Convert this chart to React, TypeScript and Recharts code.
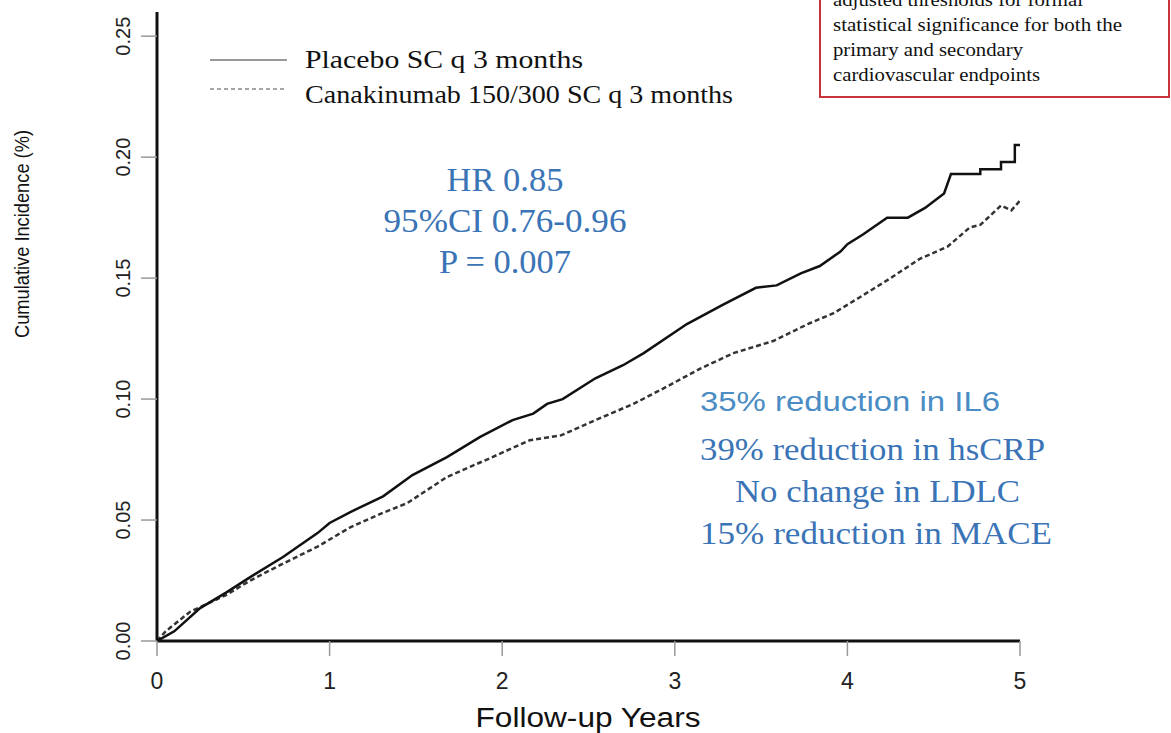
import { LineChart, Line, XAxis, YAxis } from 'recharts';

// follow-up years / cumulative incidence
const placeboYears = [
  0, 0.1, 0.25, 0.4, 0.54, 0.73, 0.93, 1.0, 1.12, 1.31, 1.48, 1.68, 1.87, 2.06, 2.18,
  2.26, 2.35, 2.54, 2.7, 2.82, 3.07, 3.28, 3.47, 3.59, 3.73, 3.84, 3.96, 4.0, 4.09,
  4.23, 4.35, 4.45, 4.56, 4.6, 4.77, 4.77, 4.89, 4.89, 4.97, 4.97, 5.0,
];
const placeboValues = [
  0, 0.004, 0.0136, 0.02, 0.0264, 0.0347, 0.0446, 0.0488, 0.0533, 0.0598, 0.0686, 0.076,
  0.0843, 0.0913, 0.094, 0.098, 0.1, 0.1086, 0.114, 0.119, 0.131, 0.139, 0.146, 0.147,
  0.152, 0.155, 0.161, 0.164, 0.168, 0.175, 0.175, 0.179, 0.185, 0.193, 0.193, 0.195,
  0.195, 0.198, 0.198, 0.205, 0.205,
];
const canakinumabYears = [
  0, 0.05, 0.19, 0.4, 0.54, 0.73, 0.93, 1.12, 1.31, 1.45, 1.68, 1.93, 2.16, 2.34, 2.54,
  2.76, 2.95, 3.15, 3.34, 3.57, 3.77, 3.92, 4.07, 4.25, 4.42, 4.58, 4.71, 4.77, 4.89,
  4.95, 5.0,
];
const canakinumabValues = [
  0, 0.004, 0.012, 0.019, 0.025, 0.032, 0.039, 0.047, 0.053, 0.057, 0.0678, 0.0756, 0.083,
  0.085, 0.0913, 0.098, 0.105, 0.1127, 0.119, 0.124, 0.131, 0.1355, 0.142, 0.15, 0.158,
  0.163, 0.171, 0.172, 0.18, 0.178, 0.182,
];

const yTicks = [0, 0.05, 0.1, 0.15, 0.2, 0.25];
const xTicks = [0, 1, 2, 3, 4, 5];

const seriesNames = ['Placebo SC q 3 months', 'Canakinumab 150/300 SC q 3 months'];
const statLines = ['HR 0.85', '95%CI 0.76-0.96', 'P = 0.007'];
const noteLines = [
  'adjusted thresholds for formal',
  'statistical significance for both the',
  'primary and secondary',
  'cardiovascular endpoints',
];

const placeboData = placeboYears.map((year, i) => ({ year, value: placeboValues[i] }));
const canakinumabData = canakinumabYears.map((year, i) => ({ year, value: canakinumabValues[i] }));

const SANS = '"Liberation Sans", Arial, sans-serif';
const SERIF = '"Liberation Serif", "Times New Roman", serif';
const BLUE = '#3a74b6';

// measured text widths in the picture
const statWidths = [117, 243, 132];
const noteWidths = [250, 289, 190, 207];

function YTick({ x, y, payload }: any) {
  const cx = x - 16;
  return (
    <text
      x={cx}
      y={y}
      transform={`rotate(-90 ${cx} ${y})`}
      textAnchor="middle"
      dominantBaseline="central"
      fontFamily={SANS}
      fontSize={20}
      fill="#222"
    >
      {Number(payload.value).toFixed(2)}
    </text>
  );
}

function XTick({ x, payload }: any) {
  return (
    <text x={x} y={689} textAnchor="middle" fontFamily={SANS} fontSize={23} fill="#222">
      {payload.value}
    </text>
  );
}

export default function App() {
  return (
    <div style={{ position: 'absolute', left: 0, top: 0, width: 1171, height: 733, background: '#fff' }}>
      <LineChart width={1171} height={733} margin={{ top: 12, right: 151, bottom: 0, left: 0 }}>
        <XAxis
          dataKey="year"
          type="number"
          domain={[0, 5]}
          ticks={xTicks}
          height={92}
          tickSize={15}
          tick={<XTick />}
          tickLine={{ stroke: '#999', strokeWidth: 1.5 }}
          axisLine={{ stroke: '#111', strokeWidth: 3 }}
          allowDataOverflow
        />
        <YAxis
          dataKey="value"
          type="number"
          domain={[0, 0.26]}
          ticks={yTicks}
          width={157}
          tickSize={16}
          tick={<YTick />}
          tickLine={{ stroke: '#999', strokeWidth: 1.5 }}
          axisLine={{ stroke: '#111', strokeWidth: 3 }}
          allowDataOverflow
        />
        <Line
          data={canakinumabData}
          dataKey="value"
          name={seriesNames[1]}
          type="linear"
          stroke="#333"
          strokeWidth={2.5}
          strokeDasharray="5 3"
          dot={false}
          isAnimationActive={false}
        />
        <Line
          data={placeboData}
          dataKey="value"
          name={seriesNames[0]}
          type="linear"
          stroke="#111"
          strokeWidth={2.5}
          dot={false}
          isAnimationActive={false}
        />
      </LineChart>
      <svg
        width={1171}
        height={733}
        style={{ position: 'absolute', left: 0, top: 0, pointerEvents: 'none' }}
      >
        {/* legend */}
        <line x1={210} x2={287} y1={60} y2={60} stroke="#777" strokeWidth={1.5} />
        <text x={305} y={68} fontFamily={SERIF} fontSize={25} textLength={278} lengthAdjust="spacingAndGlyphs" fill="#111">
          {seriesNames[0]}
        </text>
        <line x1={210} x2={287} y1={89} y2={89} stroke="#888" strokeWidth={1.5} strokeDasharray="4 3" />
        <text x={305} y={103} fontFamily={SERIF} fontSize={25} textLength={428} lengthAdjust="spacingAndGlyphs" fill="#111">
          {seriesNames[1]}
        </text>

        <text
          x={22}
          y={234}
          transform="rotate(-90 22 234)"
          textAnchor="middle"
          dominantBaseline="central"
          fontFamily={SANS}
          fontSize={20}
          textLength={208}
          lengthAdjust="spacingAndGlyphs"
          fill="#111"
        >
          Cumulative Incidence (%)
        </text>
        <text x={588} y={727} textAnchor="middle" fontFamily={SANS} fontSize={27} textLength={225} lengthAdjust="spacingAndGlyphs" fill="#111">
          Follow-up Years
        </text>

        <rect x={820} y={-10} width={349} height={107} fill="#fff" stroke="#c7343b" strokeWidth={2} />
        {noteLines.map((t, i) => (
          <text
            key={t}
            x={833}
            y={6 + i * 25}
            fontFamily={SERIF}
            fontSize={18}
            textLength={noteWidths[i]}
            lengthAdjust="spacingAndGlyphs"
            fill="#111"
          >
            {t}
          </text>
        ))}

        {statLines.map((t, i) => (
          <text
            key={t}
            x={505}
            y={191 + i * 41}
            textAnchor="middle"
            fontFamily={SERIF}
            fontSize={33}
            textLength={statWidths[i]}
            lengthAdjust="spacingAndGlyphs"
            fill={BLUE}
          >
            {t}
          </text>
        ))}

        <text x={700} y={411} fontFamily={SANS} fontSize={27} textLength={300} lengthAdjust="spacingAndGlyphs" fill="#4a8cc3">
          35% reduction in IL6
        </text>
        <text x={700} y={460} fontFamily={SERIF} fontSize={32} textLength={345} lengthAdjust="spacingAndGlyphs" fill={BLUE}>
          39% reduction in hsCRP
        </text>
        <text x={735} y={502} fontFamily={SERIF} fontSize={32} textLength={285} lengthAdjust="spacingAndGlyphs" fill={BLUE}>
          No change in LDLC
        </text>
        <text x={700} y={544} fontFamily={SERIF} fontSize={32} textLength={352} lengthAdjust="spacingAndGlyphs" fill={BLUE}>
          15% reduction in MACE
        </text>
      </svg>
    </div>
  );
}
